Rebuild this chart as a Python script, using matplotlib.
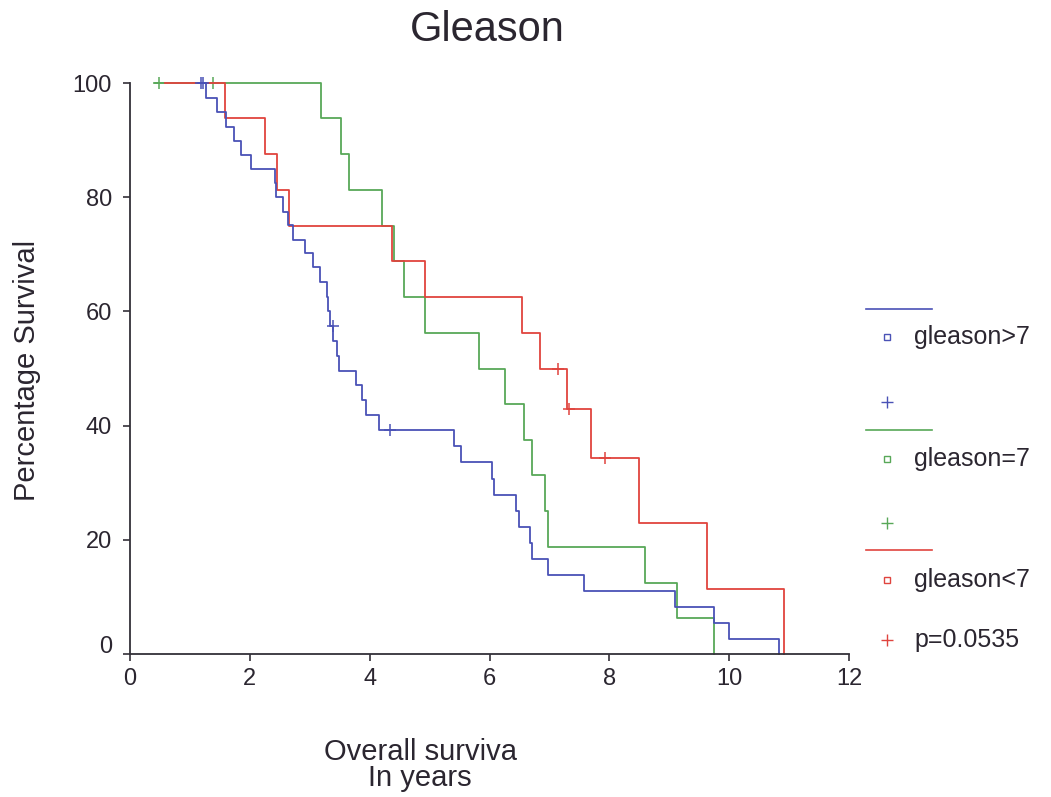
import matplotlib
matplotlib.use('Agg')
import matplotlib.pyplot as plt
from matplotlib.lines import Line2D
from matplotlib.transforms import ScaledTranslation

plt.rcParams['font.family'] = ['Liberation Sans', 'DejaVu Sans']

# Kaplan-Meier curves
# step times in years, survival (%) after each step
gt7_start = 1.15
gt7_times = [1.27, 1.45, 1.60, 1.73, 1.86, 2.02, 2.42, 2.43, 2.56, 2.64, 2.72,
             2.92, 3.06, 3.17, 3.29, 3.31, 3.33, 3.38, 3.46, 3.48, 3.78, 3.87,
             3.94, 4.16, 5.40, 5.52, 6.05, 6.08, 6.45, 6.49, 6.68, 6.71, 6.98,
             7.57, 9.10, 9.75, 9.99, 10.84]
gt7_surv = [97.4, 94.9, 92.3, 89.9, 87.4, 85.0, 82.5, 80.1, 77.4, 75.1, 72.5,
            70.2, 67.7, 65.1, 62.5, 60.0, 57.4, 54.8, 52.2, 49.6, 47.1, 44.5,
            41.9, 39.3, 36.4, 33.6, 30.7, 27.9, 25.1, 22.3, 19.5, 16.6, 13.8,
            11.0, 8.2, 5.5, 2.7, 0.0]
gt7_cens_t = [1.19, 1.22, 3.38, 4.34]
gt7_cens_s = [100, 100, 57.4, 39.3]

eq7_start = 0.42
eq7_times = [3.19, 3.52, 3.66, 4.21, 4.40, 4.58, 4.92, 5.83, 6.26, 6.57, 6.71,
             6.92, 6.97, 8.59, 9.13, 9.74]
eq7_surv = [93.8, 87.5, 81.3, 75.0, 68.8, 62.5, 56.3, 50.0, 43.8, 37.5, 31.3,
            25.0, 18.8, 12.5, 6.3, 0.0]
eq7_cens_t = [0.49, 1.39]
eq7_cens_s = [100, 100]

lt7_start = 0.58
lt7_times = [1.59, 2.25, 2.46, 2.66, 4.37, 4.92, 6.54, 6.84, 7.29, 7.69, 8.50,
             9.63, 10.91]
lt7_surv = [93.8, 87.5, 81.3, 75.0, 68.8, 62.5, 56.3, 50.0, 42.9, 34.3, 22.9,
            11.4, 0.0]
lt7_cens_t = [7.15, 7.33, 7.93]
lt7_cens_s = [50.0, 42.9, 34.3]

labels = ['gleason>7', 'gleason=7', 'gleason<7']
p_text = 'p=0.0535'
x_ticks = [0, 2, 4, 6, 8, 10, 12]
y_ticks = [0, 20, 40, 60, 80, 100]

blue = '#4a52b6'
green = '#58a858'
red = '#e0443e'
txt = '#2b2630'

W, H = 1051, 797
fig = plt.figure(figsize=(W / 100, H / 100), dpi=100)
ax = fig.add_axes([130 / W, 1 - 654 / H, 719 / W, 571 / H])

curves = [
    (eq7_start, eq7_times, eq7_surv, eq7_cens_t, eq7_cens_s, green),
    (lt7_start, lt7_times, lt7_surv, lt7_cens_t, lt7_cens_s, red),
    (gt7_start, gt7_times, gt7_surv, gt7_cens_t, gt7_cens_s, blue),
]
for start, times, surv, ct, cs, col in curves:
    ax.step([start] + times, [100] + surv, where='post', color=col, lw=1.3,
            clip_on=False)
    ax.plot(ct, cs, '+', color=col, ms=9, mew=1.1, clip_on=False)

ax.set_xlim(0, 12)
ax.set_ylim(0, 100)
ax.set_xticks(x_ticks)
ax.set_yticks(y_ticks)
for s in ['top', 'right']:
    ax.spines[s].set_visible(False)
for s in ['left', 'bottom']:
    ax.spines[s].set_color('#333038')
    ax.spines[s].set_linewidth(1.3)
ax.tick_params(direction='out', length=5, width=1.2, colors='#333038',
               labelsize=17, labelcolor=txt)
ax.tick_params(axis='x', pad=5)
ax.tick_params(axis='y', pad=8)

# the "0" on the y axis sits a little above the x axis in the original
zero_lab = ax.get_yticklabels()[0]
zero_lab.set_transform(zero_lab.get_transform() +
                       ScaledTranslation(0, 7 / 72, fig.dpi_scale_trans))

fig.text(487 / W, 1 - 30 / H, 'Gleason', ha='center', va='center',
         fontsize=30, color=txt)
fig.text(27 / W, 1 - 370 / H, 'Percentage Survival', rotation=90,
         ha='center', va='center', fontsize=21, color=txt)
fig.text(420 / W, 1 - 765 / H, 'Overall surviva\nIn years', ha='center',
         va='center', fontsize=21, color=txt, linespacing=0.9)

# hand-drawn legend at the right, as in the original export
rows = [(309, 337, 402), (430, 459, 523), (550, 580, None)]
for (ly, sy, py), lab, col in zip(rows, labels, [blue, green, red]):
    fig.add_artist(Line2D([866 / W, 932 / W], [1 - ly / H] * 2,
                          transform=fig.transFigure, color=col, lw=1.2))
    fig.add_artist(Line2D([887 / W], [1 - sy / H], marker='s', ms=5,
                          mfc='none', mec=col, mew=1,
                          transform=fig.transFigure))
    fig.text(914 / W, 1 - sy / H, lab, ha='left', va='center', fontsize=18,
             color=txt)
    if py is not None:
        fig.add_artist(Line2D([887 / W], [1 - py / H], marker='+', ms=9,
                              mew=1, color=col, transform=fig.transFigure))
fig.add_artist(Line2D([887 / W], [1 - 640 / H], marker='+', ms=9, mew=1,
                      color=red, transform=fig.transFigure))
fig.text(914 / W, 1 - 640 / H, p_text, ha='left', va='center', fontsize=18,
         color=txt)

fig.savefig('out.png', dpi=100)
